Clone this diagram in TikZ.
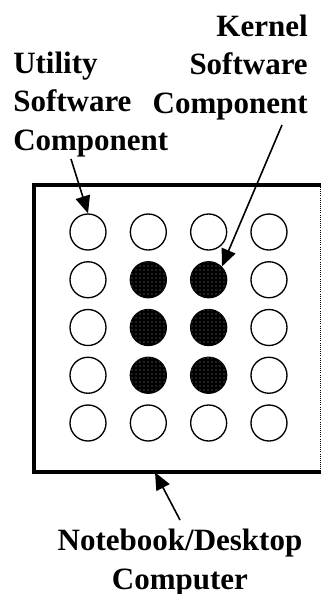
\documentclass[tikz,border=0pt]{standalone}
\usepackage{fontspec}
\setmainfont{Liberation Serif}
\usetikzlibrary{arrows.meta,patterns,calc}

\tikzset{
  lbl/.style={font=\bfseries\fontsize{23.25}{28.8}\selectfont, inner sep=0pt},
  comp/.style={circle, draw=black, line width=1pt, minimum size=27pt, inner sep=0pt},
  kern/.style={comp, fill=black,
    postaction={pattern=dots, pattern color=black!45}},
  pointer/.style={line width=1.2pt,
    -{Triangle[length=13pt,width=11pt]}},
  frame/.style={line width=2.8pt, line cap=rect},
}

\begin{document}
\begin{tikzpicture}[x=0.75pt,y=-0.75pt]
  \useasboundingbox (0,0) rectangle (321,594);

  % computer outline (drawn side by side below)
  \node[rectangle, inner sep=0pt, minimum width=214.1pt, minimum height=215.25pt]
    (pc) at (177.25,328.5) {};
  \draw[frame] (pc.south east) -- (pc.south west) -- (pc.north west) -- (pc.north east);
  \draw[line width=0.6pt, densely dotted] (pc.north east) -- (pc.south east);

  % 5 x 4 grid of software components; the inner 3 x 2 block is the kernel
  \foreach \r in {1,...,5}{
    \foreach \c in {1,...,4}{
      \pgfmathsetmacro{\px}{88+60.33*(\c-1)}
      \pgfmathsetmacro{\py}{232+47.75*(\r-1)}
      \pgfmathtruncatemacro{\inner}{(\r>1)&&(\r<5)&&(\c>1)&&(\c<4)}
      \ifnum\inner=1
        \node[kern] (c\r\c) at (\px,\py) {};
      \else
        \node[comp] (c\r\c) at (\px,\py) {};
      \fi
    }
  }

  % labels (base anchor sits on the last line)
  \node[lbl, align=left, anchor=base west] (util) at (13,150)
    {Utility\\Software\\Component};
  \node[lbl, align=right, anchor=base east] (kernel) at (308,113)
    {Kernel\\Software\\Component};
  \node[lbl, align=center, anchor=base] (computer) at (180,589)
    {Notebook/Desktop\\Computer};

  % pointers
  \coordinate (u0) at (71,159);
  \coordinate (k0) at (282,125);
  \coordinate (n0) at (180,520);
  \coordinate (nb) at ($(pc.south)+(-22.25,0)$);
  \draw[pointer] (u0) -- (c11.north);
  \draw[pointer] (k0) -- (c23.north east);
  \draw[pointer] (n0) -- (nb);
\end{tikzpicture}
\end{document}
